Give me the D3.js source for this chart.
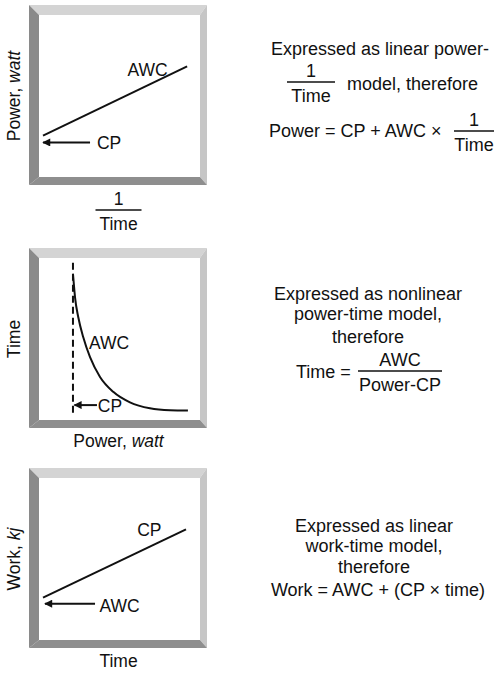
<!DOCTYPE html>
<html lang="en">
<head>
<meta charset="utf-8">
<title>Critical power models</title>
<style>
    body { margin: 0; background: #fff; }
    text { font-family: "Liberation Sans", Arial, Helvetica, sans-serif; font-size: 17.5px; fill: #111; }
    g.side text { font-size: 18px; }
    .mark { stroke: #111; stroke-width: 2; fill: none; }
</style>
</head>
<body>
<svg width="495" height="676"></svg>
<script src="https://d3js.org/d3.v7.min.js"></script>
<script>
    // panel 1: power vs 1/time (straight line)
    const line1 = [[0.25, 2.55], [9.2, 6.83]];
    const arrow1 = [[3.17, 2.13], [0.25, 2.13]];
    // panel 2: time vs power (hyperbola)
    const curve2 = [[2.11, 9.02], [2.13, 8.79], [2.24, 7.56], [2.44, 6.34], [2.75, 5.11], [3.17, 3.88],
                    [3.79, 2.66], [4.61, 1.74], [5.65, 1.09], [6.89, 0.72], [8.14, 0.6], [9.25, 0.58]];
    const asymptote2 = [[2.11, 9.7], [2.11, 0.4]];
    const arrow2 = [[3.6, 0.92], [2.2, 0.92]];
    // panel 3: work vs time (straight line)
    const line3 = [[0.25, 2.61], [9.13, 6.83]];
    const arrow3 = [[3.48, 2.24], [0.37, 2.24]];

    const yLabels = [['Power, ', 'watt'], ['Time', ''], ['Work, ', 'kj']];
    const xLabels = [null, ['Power, ', 'watt'], ['Time', '']];
    // [text, x, y] in data units
    const notes = [
        [['AWC', 5.5, 6.25], ['CP', 3.6, 1.75]],
        [['AWC', 3.1, 4.4], ['CP', 3.65, 0.5]],
        [['CP', 6.1, 6.4], ['AWC', 3.75, 1.75]]
    ];
    const sideText = [
        ['Expressed as linear power-', 'model, therefore', 'Power = CP + AWC × '],
        ['Expressed as nonlinear', 'power-time model,', 'therefore', 'Time = '],
        ['Expressed as linear', 'work-time model,', 'therefore', 'Work = AWC + (CP × time)']
    ];

    const svg = d3.select('svg');
    const defs = svg.append('defs');
    defs.append('marker')
        .attr('id', 'head')
        .attr('viewBox', '0 0 10 10')
        .attr('refX', 9).attr('refY', 5)
        .attr('markerWidth', 4.5).attr('markerHeight', 4)
        .attr('markerUnits', 'strokeWidth')
        .attr('orient', 'auto')
        .append('path').attr('d', 'M0,0L10,5L0,10Z').attr('fill', '#111');

    const frameX = 29, frameW = 178;
    const tops = [5, 248, 468];
    const frameH = 180;
    const th = { l: 10, t: 10, r: 7, b: 8 };

    function drawPanel(i) {
        const top = tops[i];
        const g = svg.append('g');
        const x0 = frameX, x1 = frameX + frameW, y0 = top, y1 = top + frameH;
        const ix0 = x0 + th.l, ix1 = x1 - th.r, iy0 = y0 + th.t, iy1 = y1 - th.b;

        // bevelled frame
        const sides = [
            [[x0, y0], [x1, y0], [ix1, iy0], [ix0, iy0], '#d4d4d4'],
            [[x1, y0], [x1, y1], [ix1, iy1], [ix1, iy0], '#c6c6c6'],
            [[x0, y1], [x1, y1], [ix1, iy1], [ix0, iy1], '#8e8e8e'],
            [[x0, y0], [ix0, iy0], [ix0, iy1], [x0, y1], '#8a8a8a']
        ];
        g.selectAll('polygon').data(sides).enter().append('polygon')
            .attr('points', d => d.slice(0, 4).map(p => p.join(',')).join(' '))
            .attr('fill', d => d[4]);

        const x = d3.scaleLinear().domain([0, 10]).range([ix0, ix1]);
        const y = d3.scaleLinear().domain([0, 10]).range([iy1, iy0]);
        const line = d3.line().x(d => x(d[0])).y(d => y(d[1]));

        if (i === 0) {
            g.append('path').attr('class', 'mark').attr('d', line(line1));
            g.append('path').attr('class', 'mark').attr('stroke-width', 1.6).attr('marker-end', 'url(#head)').attr('d', line(arrow1));
        } else if (i === 1) {
            g.append('path').attr('class', 'mark').attr('stroke-width', 1.4).attr('stroke-dasharray', '7,4').attr('d', line(asymptote2));
            g.append('path').attr('class', 'mark').attr('d', line.curve(d3.curveMonotoneX)(curve2));
            line.curve(d3.curveLinear);
            g.append('path').attr('class', 'mark').attr('stroke-width', 1.6).attr('marker-end', 'url(#head)').attr('d', line(arrow2));
        } else {
            g.append('path').attr('class', 'mark').attr('d', line(line3));
            g.append('path').attr('class', 'mark').attr('stroke-width', 1.6).attr('marker-end', 'url(#head)').attr('d', line(arrow3));
        }

        g.selectAll('text.note').data(notes[i]).enter().append('text')
            .attr('class', 'note')
            .attr('x', d => x(d[1])).attr('y', d => y(d[2]))
            .text(d => d[0]);

        // y axis label
        const yl = g.append('text')
            .attr('transform', `translate(20,${(iy0 + iy1) / 2}) rotate(-90)`)
            .attr('text-anchor', 'middle');
        yl.append('tspan').text(yLabels[i][0]);
        if (yLabels[i][1]) yl.append('tspan').style('font-style', 'italic').text(yLabels[i][1]);

        // x axis label
        const cx = (x0 + x1) / 2 + 0.5;
        if (xLabels[i]) {
            const xl = g.append('text').attr('x', cx).attr('y', y1 + 19).attr('text-anchor', 'middle');
            xl.append('tspan').text(xLabels[i][0]);
            if (xLabels[i][1]) xl.append('tspan').style('font-style', 'italic').text(xLabels[i][1]);
        } else {
            fraction(g, cx, y1 + 25, '1', 'Time', 46, 1.6);
        }
    }

    function fraction(g, cx, ly, num, den, w, sw) {
        g.append('text').attr('x', cx).attr('y', ly - 5).attr('text-anchor', 'middle').text(num);
        g.append('line').attr('x1', cx - w / 2).attr('x2', cx + w / 2)
            .attr('y1', ly).attr('y2', ly).attr('stroke', '#111').attr('stroke-width', sw);
        g.append('text').attr('x', cx).attr('y', ly + 20).attr('text-anchor', 'middle').text(den);
    }

    [0, 1, 2].forEach(drawPanel);

    // explanations on the right
    const r = svg.append('g').attr('class', 'side');
    const t1 = sideText[0];
    r.append('text').attr('x', 380).attr('y', 55).attr('text-anchor', 'middle').text(t1[0]);
    fraction(r, 311, 82, '1', 'Time', 48, 1.6);
    r.append('text').attr('x', 347).attr('y', 90).text(t1[1]);
    r.append('text').attr('x', 269).attr('y', 137).text(t1[2]);
    fraction(r, 474, 131, '1', 'Time', 40, 1.6);

    const t2 = sideText[1];
    [300, 320, 343].forEach((yy, k) =>
        r.append('text').attr('x', 368).attr('y', yy).attr('text-anchor', 'middle').text(t2[k]));
    r.append('text').attr('x', 296).attr('y', 378).text(t2[3]);
    fraction(r, 400, 371, 'AWC', 'Power-CP', 84, 1.6);

    const t3 = sideText[2];
    [532, 552, 573, 596].forEach((yy, k) =>
        r.append('text').attr('x', k === 3 ? 378 : 374).attr('y', yy).attr('text-anchor', 'middle').text(t3[k]));
</script>
</body>
</html>
